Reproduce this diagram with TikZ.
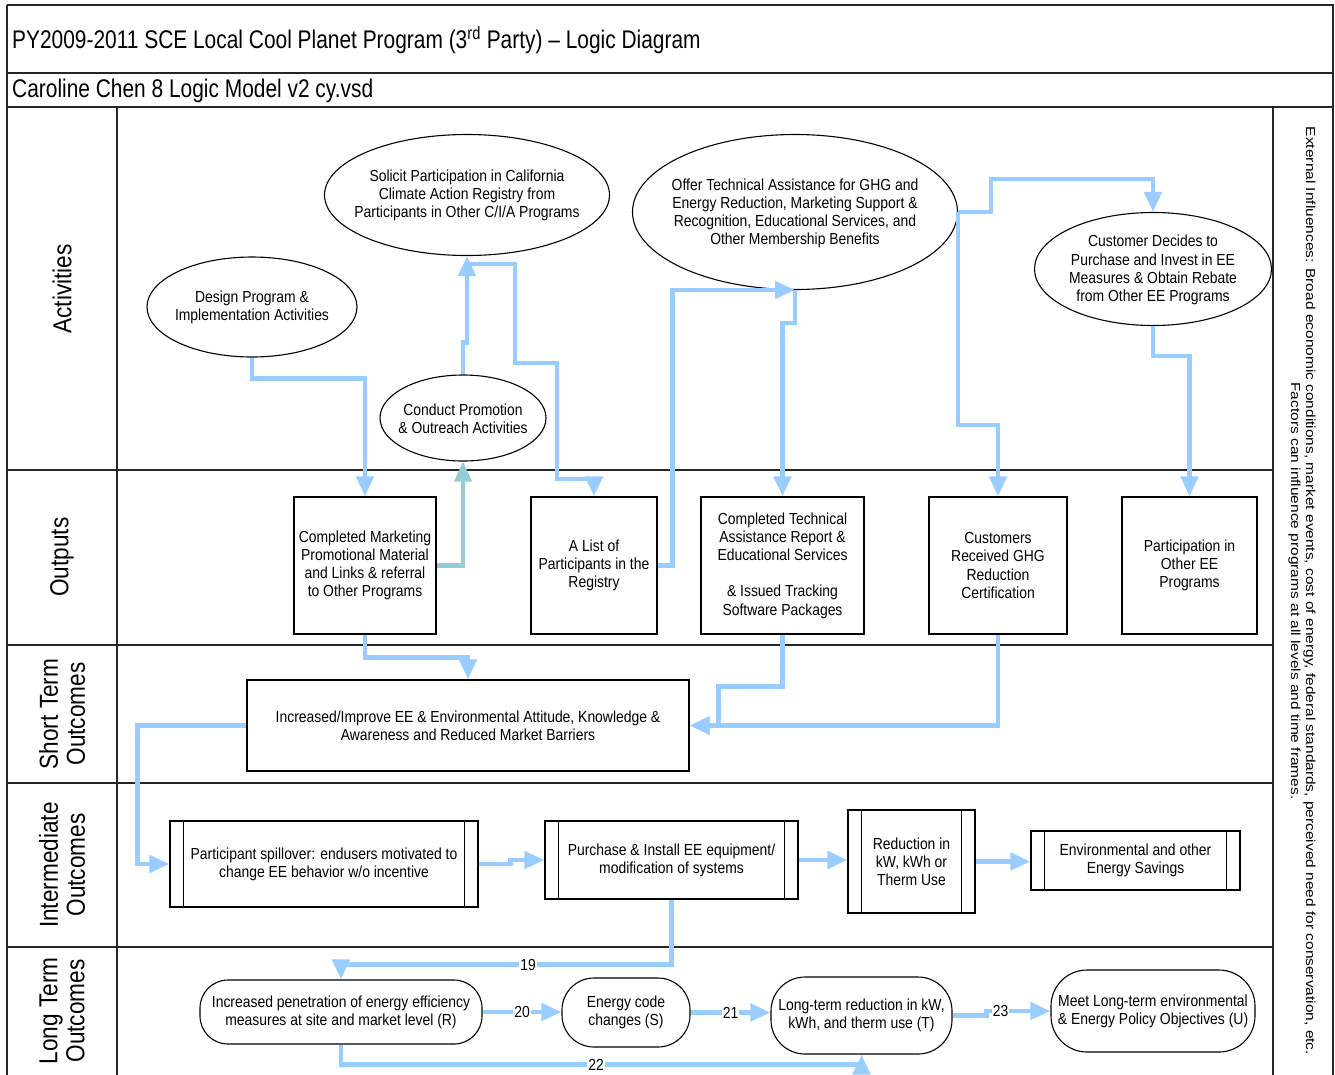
\documentclass[tikz,border=0pt]{standalone}
\usepackage{fontspec}
\setmainfont{Liberation Sans}
\newfontfamily\bodyfont[FakeStretch=0.87]{Liberation Sans}
\newfontfamily\headfont[FakeStretch=0.82]{Liberation Sans}
\newfontfamily\extfont[FakeStretch=1.19]{Liberation Sans}
\usetikzlibrary{arrows.meta,shapes.geometric}

\definecolor{flow}{RGB}{153,204,255}
\definecolor{flowteal}{RGB}{150,204,214}

\begin{document}
\begin{tikzpicture}[x=1pt,y=-1pt,
  frame/.style={line width=1.5pt, draw=black!85},
  txt/.style={font=\bodyfont\fontsize{16}{18.2}\selectfont, align=center, inner sep=0pt},
  oval/.style={ellipse, draw, line width=1.1pt, inner sep=0pt},
  box/.style={rectangle, draw, line width=1.2pt, txt},
  pill/.style={rectangle, draw, line width=1.1pt, txt},
  conn/.style={draw=flow, line width=4.8pt, -{Triangle[length=20pt,width=17pt]}},
  lbl/.style={fill=white, inner sep=1pt, font=\bodyfont\fontsize{16}{16}\selectfont},
  band/.style={font=\bodyfont\fontsize{26}{27}\selectfont, rotate=90, align=center, inner sep=0pt}
]
\useasboundingbox (0,0) rectangle (1335,1074);
\fill[white] (0,0) rectangle (1335,1074);

% table frame
\draw[frame] (7,5) -- (1333,5) -- (1333,1080);
\draw[frame] (7,5) -- (7,1080);
\draw[frame] (7,73) -- (1333,73);
\draw[frame] (7,107) -- (1333,107);
\draw[frame] (117,107) -- (117,1080);
\draw[frame] (1273,107) -- (1273,1080);
\foreach \yy in {470,645,783,947} \draw[frame] (7,\yy) -- (1273,\yy);

% headings
\node[anchor=west, inner sep=0pt, font=\headfont\fontsize{25.5}{28}\selectfont] (title) at (12,40)
  {PY2009-2011 SCE Local Cool Planet Program (3\textsuperscript{rd} Party) \textendash{} Logic Diagram};
\node[anchor=west, inner sep=0pt, font=\headfont\fontsize{25.5}{28}\selectfont] (file) at (12,91)
  {Caroline Chen 8 Logic Model v2 cy.vsd};

% row labels
\node[band] (bAct) at (62,289) {Activities};
\node[band] (bOut) at (62,557) {Outputs};
\node[band] (bShort) at (62,714) {Short Term\\Outcomes};
\node[band] (bInt) at (62,865) {Intermediate\\Outcomes};
\node[band] (bLong) at (62,1011) {Long Term\\Outcomes};

% external influences
\node[rotate=-90, align=center, inner sep=0pt, font=\extfont\fontsize{13}{15}\selectfont] (ext) at (1302,591)
  {External Influences: Broad economic conditions, market events, cost of energy, federal standards, perceived need for conservation, etc.\\
   Factors can influence programs at all levels and time frames.};

% activities (outline and text kept apart so the ellipse keeps its size)
\node[oval, minimum width=210pt, minimum height=100pt] (design) at (252,307) {};
\node[txt] (designT) at (252,307) {Design Program \&\\Implementation Activities};
\node[oval, minimum width=285pt, minimum height=121pt] (solicit) at (467,195) {};
\node[txt] (solicitT) at (467,195.5)
  {Solicit Participation in California\\Climate Action Registry from\\Participants in Other C/I/A Programs};
\node[oval, minimum width=166pt, minimum height=86pt] (promo) at (463,418) {};
\node[txt] (promoT) at (463,418.5) {Conduct Promotion\\\& Outreach Activities};
\node[oval, minimum width=325pt, minimum height=155pt] (offer) at (795,212) {};
\node[txt] (offerT) at (795,213.5)
  {Offer Technical Assistance for GHG and\\Energy Reduction, Marketing Support \&\\Recognition, Educational Services, and\\Other Membership Benefits};
\node[oval, minimum width=237pt, minimum height=113pt] (decide) at (1153,269) {};
\node[txt] (decideT) at (1153,270)
  {Customer Decides to\\Purchase and Invest in EE\\Measures \& Obtain Rebate\\from Other EE Programs};

% outputs
\node[box, minimum width=142pt, minimum height=137pt] (mkt) at (365,565.5)
  {Completed Marketing\\Promotional Material\\and Links \& referral\\to Other Programs};
\node[box, minimum width=126pt, minimum height=137pt] (list) at (594,565.5)
  {A List of\\Participants in the\\Registry};
\node[box, minimum width=163pt, minimum height=137pt] (tech) at (782.5,565.5)
  {Completed Technical\\Assistance Report \&\\Educational Services\\[18.2pt]\& Issued Tracking\\Software Packages};
\node[box, minimum width=138pt, minimum height=137pt] (ghg) at (998,565.5)
  {Customers\\Received GHG\\Reduction\\Certification};
\node[box, minimum width=135pt, minimum height=137pt] (part) at (1189.5,565.5)
  {Participation in\\Other EE\\Programs};

% short term outcome
\node[box, minimum width=442pt, minimum height=91pt] (improve) at (468,725.5)
  {Increased/Improve EE \& Environmental Attitude, Knowledge \&\\Awareness and Reduced Market Barriers};

% intermediate outcomes
\node[box, minimum width=308pt, minimum height=86pt] (spill) at (324,864)
  {Participant spillover: endusers motivated to\\change EE behavior w/o incentive};
\node[box, minimum width=253pt, minimum height=78pt] (purch) at (671.5,860)
  {Purchase \& Install EE equipment/\\modification of systems};
\node[box, minimum width=127pt, minimum height=103pt] (red) at (911.5,861.5)
  {Reduction in\\kW, kWh or\\Therm Use};
\node[box, minimum width=209pt, minimum height=59pt] (env) at (1135.5,860.5)
  {Environmental and other\\Energy Savings};
\foreach \n in {spill,purch,red,env} {
  \draw[line width=1.2pt] ([xshift=14pt]\n.north west) -- ([xshift=14pt]\n.south west);
  \draw[line width=1.2pt] ([xshift=-14pt]\n.north east) -- ([xshift=-14pt]\n.south east);
}

% long term outcomes
\node[pill, rounded corners=28pt, minimum width=282pt, minimum height=64pt] (pen) at (341,1012)
  {Increased penetration of energy efficiency\\measures at site and market level (R)};
\node[pill, rounded corners=32pt, minimum width=128pt, minimum height=69pt] (code) at (626,1012.5)
  {Energy code\\changes (S)};
\node[pill, rounded corners=34pt, minimum width=181pt, minimum height=77pt] (ltr) at (861.5,1015.5)
  {Long-term reduction in kW,\\kWh, and therm use (T)};
\node[pill, rounded corners=36pt, minimum width=204pt, minimum height=82pt] (meet) at (1153,1011)
  {Meet Long-term environmental\\\& Energy Policy Objectives (U)};

% connectors: activities and outputs
\draw[conn] (design.south) -- ++(0,21) -| (mkt.north);
\draw[conn, draw=flowteal, line width=4.2pt] (mkt.east) -| (promo.south);
\draw[conn] (promo.north) -- ++(0,-32) -- ++(4,0) -- (solicit.south);
\draw[conn] (solicit.south) ++(0,8) -- ++(48,0) -- ++(0,99) -- ++(42,0) -- ++(0,116) -| (list.north);
\draw[conn] (list.east) -- ++(15,0) |- (offer.south);
\draw[conn] (offer.south) -- ++(0,33) -| (tech.north);
\draw[conn] (offer.east) -- ++(0,213) -| (ghg.north);
\draw[conn] (offer.east) -- ++(33,0) -- ++(0,-33) -| (decide.north);
\draw[conn] (decide.south) -- ++(0,30) -| (part.north);

% connectors: outputs to outcomes
\draw[conn] (mkt.south) -- ++(0,23) -| (improve.north);
\draw[conn] (tech.south) -- ++(0,52) -- ++(-64,0) |- (improve.east);
\draw[conn] (ghg.south) |- (improve.east);
\draw[conn] (improve.west) -- ++(-109,0) |- (spill.west);
\draw[conn] (spill.east) -- ++(32,0) -- ++(0,-4) -- (purch.west);
\draw[conn] (purch.east) -- (purch.east -| red.west);
\draw[conn] (red.east) -- (red.east -| env.west);

% connectors: long term
\draw[conn] (purch.south) -- ++(0,65) -| node[lbl, pos=0.217] {19} (pen.north);
\draw[conn] (pen.east) -- node[lbl] {20} (pen.east -| code.west);
\draw[conn] (code.east) -- node[lbl] {21} (code.east -| ltr.west);
\draw[conn] (ltr.east) -- ++(34,0) |- node[lbl, pos=0.61] {23} (meet.west);
\draw[conn] (pen.south) -- ++(0,20) -| node[lbl, pos=0.245] {22} (ltr.south);
\end{tikzpicture}
\end{document}
